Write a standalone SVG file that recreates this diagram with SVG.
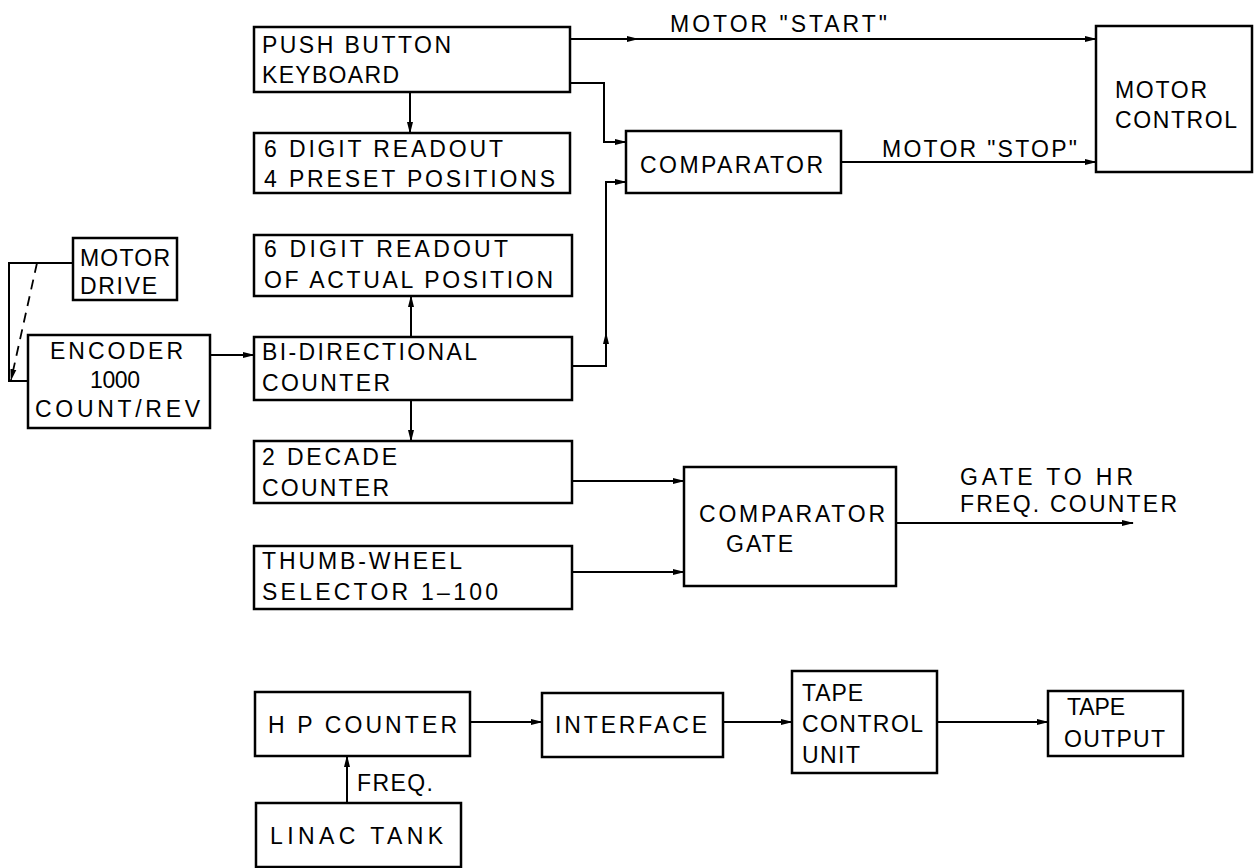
<svg xmlns="http://www.w3.org/2000/svg" width="1254" height="868" viewBox="0 0 1254 868">
<defs>
<marker id="ah" viewBox="0 0 12 8" refX="11" refY="4" markerWidth="12" markerHeight="8" markerUnits="userSpaceOnUse" orient="auto">
<path d="M0,1 L12,4 L0,7 Z" fill="#000"/>
</marker>
</defs>
<style>
.box{fill:#fff;stroke:#000;stroke-width:2.5}
.ln{fill:none;stroke:#000;stroke-width:2}
.ar{fill:none;stroke:#000;stroke-width:2;marker-end:url(#ah)}
.dash{fill:none;stroke:#000;stroke-width:1.8;stroke-dasharray:10,7;marker-end:url(#ah)}
text{font-family:"Liberation Sans",Arial,sans-serif;font-size:23px;fill:#000}
</style>
<rect width="1254" height="868" fill="#fff"/>
<g id="connectors">
<path class="ar" d="M410,92 V133"/>
<path class="ln" d="M570,39 H1090"/>
<path class="ar" d="M570,39 H638"/>
<path class="ar" d="M1080,39 H1096"/>
<path class="ar" d="M570,83 H604 V142 H626"/>
<path class="ln" d="M572,366 H606 V182"/>
<path class="ar" d="M606,350 V333"/>
<path class="ar" d="M606,190 V182 H626"/>
<path class="ar" d="M841,162 H1096"/>
<path class="ln" d="M73,263 H9 V381 H28"/>
<path class="dash" d="M37,263 L11,380"/>
<path class="ar" d="M210,355 H254"/>
<path class="ar" d="M411,337 V296"/>
<path class="ar" d="M411,400 V441"/>
<path class="ar" d="M572,481 H684"/>
<path class="ar" d="M572,572 H684"/>
<path class="ar" d="M896,523 H1133"/>
<path class="ar" d="M470,722 H542"/>
<path class="ar" d="M723,722 H792"/>
<path class="ar" d="M937,722 H1048"/>
<path class="ar" d="M347,803 V756"/>
</g>
<g id="push-button-keyboard">
<rect class="box" x="254" y="27" width="316" height="65"/>
<text x="262" y="53" textLength="189" lengthAdjust="spacing">PUSH BUTTON</text>
<text x="262" y="83" textLength="137" lengthAdjust="spacing">KEYBOARD</text>
</g>
<g id="preset-readout">
<rect class="box" x="254" y="133" width="316" height="60"/>
<text x="264" y="157" textLength="239" lengthAdjust="spacing">6 DIGIT READOUT</text>
<text x="264" y="187" textLength="291" lengthAdjust="spacing">4 PRESET POSITIONS</text>
</g>
<g id="comparator">
<rect class="box" x="626" y="131" width="215" height="62"/>
<text x="640" y="173" textLength="183" lengthAdjust="spacing">COMPARATOR</text>
</g>
<g id="motor-control">
<rect class="box" x="1096" y="26" width="156" height="146"/>
<text x="1115" y="98" textLength="92" lengthAdjust="spacing">MOTOR</text>
<text x="1115" y="128" textLength="122" lengthAdjust="spacing">CONTROL</text>
</g>
<g id="motor-labels">
<text x="670" y="32" textLength="217" lengthAdjust="spacing">MOTOR "START"</text>
<text x="882" y="157" textLength="195" lengthAdjust="spacing">MOTOR "STOP"</text>
</g>
<g id="motor-drive">
<rect class="box" x="73" y="238" width="104" height="62"/>
<text x="80" y="266" textLength="90" lengthAdjust="spacing">MOTOR</text>
<text x="80" y="294" textLength="77" lengthAdjust="spacing">DRIVE</text>
</g>
<g id="encoder">
<rect class="box" x="28" y="335" width="182" height="93"/>
<text x="50" y="359" textLength="133" lengthAdjust="spacing">ENCODER</text>
<text x="90" y="388" textLength="50" lengthAdjust="spacing">1000</text>
<text x="35" y="417" textLength="165" lengthAdjust="spacing">COUNT/REV</text>
</g>
<g id="actual-readout">
<rect class="box" x="254" y="235" width="318" height="61"/>
<text x="264" y="257" textLength="244" lengthAdjust="spacing">6 DIGIT READOUT</text>
<text x="264" y="288" textLength="289" lengthAdjust="spacing">OF ACTUAL POSITION</text>
</g>
<g id="bidirectional-counter">
<rect class="box" x="254" y="337" width="318" height="63"/>
<text x="262" y="360" textLength="215" lengthAdjust="spacing">BI-DIRECTIONAL</text>
<text x="262" y="391" textLength="128" lengthAdjust="spacing">COUNTER</text>
</g>
<g id="decade-counter">
<rect class="box" x="254" y="441" width="318" height="62"/>
<text x="262" y="465" textLength="135" lengthAdjust="spacing">2 DECADE</text>
<text x="262" y="496" textLength="127" lengthAdjust="spacing">COUNTER</text>
</g>
<g id="thumb-wheel">
<rect class="box" x="254" y="546" width="318" height="63"/>
<text x="262" y="569" textLength="200" lengthAdjust="spacing">THUMB-WHEEL</text>
<text x="262" y="600" textLength="236" lengthAdjust="spacing">SELECTOR  1–100</text>
</g>
<g id="comparator-gate">
<rect class="box" x="684" y="467" width="212" height="119"/>
<text x="699" y="522" textLength="186" lengthAdjust="spacing">COMPARATOR</text>
<text x="726" y="552" textLength="67" lengthAdjust="spacing">GATE</text>
</g>
<g id="gate-label">
<text x="960" y="485" textLength="173" lengthAdjust="spacing">GATE TO HR</text>
<text x="960" y="512" textLength="217" lengthAdjust="spacing">FREQ. COUNTER</text>
</g>
<g id="hp-counter">
<rect class="box" x="255" y="692" width="215" height="64"/>
<text x="268" y="733" textLength="189" lengthAdjust="spacing">H P COUNTER</text>
</g>
<g id="interface">
<rect class="box" x="542" y="693" width="181" height="64"/>
<text x="555" y="733" textLength="152" lengthAdjust="spacing">INTERFACE</text>
</g>
<g id="tape-control-unit">
<rect class="box" x="792" y="671" width="145" height="102"/>
<text x="802" y="701" textLength="61" lengthAdjust="spacing">TAPE</text>
<text x="802" y="732" textLength="121" lengthAdjust="spacing">CONTROL</text>
<text x="802" y="763" textLength="58" lengthAdjust="spacing">UNIT</text>
</g>
<g id="tape-output">
<rect class="box" x="1048" y="691" width="135" height="65"/>
<text x="1067" y="715" textLength="58" lengthAdjust="spacing">TAPE</text>
<text x="1064" y="747" textLength="101" lengthAdjust="spacing">OUTPUT</text>
</g>
<g id="linac-tank">
<rect class="box" x="256" y="803" width="205" height="64"/>
<text x="270" y="844" textLength="173" lengthAdjust="spacing">LINAC TANK</text>
</g>
<g id="freq-label">
<text x="357" y="791" textLength="76" lengthAdjust="spacing">FREQ.</text>
</g>
</svg>
